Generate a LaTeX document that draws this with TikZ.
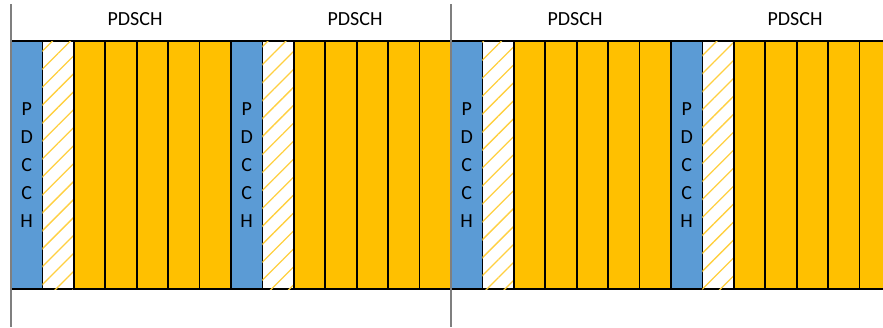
\documentclass[tikz,border=0pt]{standalone}
\usepackage{fontspec}
\setmainfont{Carlito}
\usetikzlibrary{patterns.meta}
\definecolor{ctrlblue}{HTML}{5B9BD5}
\definecolor{datagold}{HTML}{FFC000}
\definecolor{divgray}{HTML}{7F7F7F}
\begin{document}
\begin{tikzpicture}[x=1pt,y=-1pt,
  cell/.style={draw=black, line width=1.7pt, minimum width=31.43pt,
    minimum height=248pt, inner sep=0pt, outer sep=0pt},
  ctrlcell/.style={cell, fill=ctrlblue, align=center,
    font=\fontsize{20}{28}\selectfont},
  gapcell/.style={cell, fill=white,
    postaction={pattern={Lines[angle=45, distance=12.7pt, line width=1.3pt]},
      pattern color=datagold!75}},
  datacell/.style={cell, fill=datagold},
  chlabel/.style={font=\fontsize{20}{24}\selectfont, inner sep=0pt},
  divider/.style={draw=divgray, line width=2pt}]
\useasboundingbox (0,0) rectangle (883,327);
\begin{scope}
  \clip (0,0) rectangle (883,327);
  \foreach \g in {0,...,3} {
    \pgfmathsetmacro\gx{11+220*\g}
    \node[ctrlcell] (pdcch\g) at (\gx+15.71,165) {P\\D\\C\\C\\H};
    \node[gapcell] (gap\g) at (\gx+47.14,165) {};
    \foreach \k in {0,...,4} {
      \node[datacell] (data\g-\k) at (\gx+78.57+31.43*\k,165) {};
    }
    \node[chlabel] (pdsch\g) at (135+220*\g,19) {PDSCH};
  }
\end{scope}
\coordinate (divAtop) at (11,4);
\coordinate (divAbot) at (11,327);
\coordinate (divBtop) at (451,4);
\coordinate (divBbot) at (451,327);
\draw[divider] (divAtop) -- (divAbot);
\draw[divider] (divBtop) -- (divBbot);
\end{tikzpicture}
\end{document}
